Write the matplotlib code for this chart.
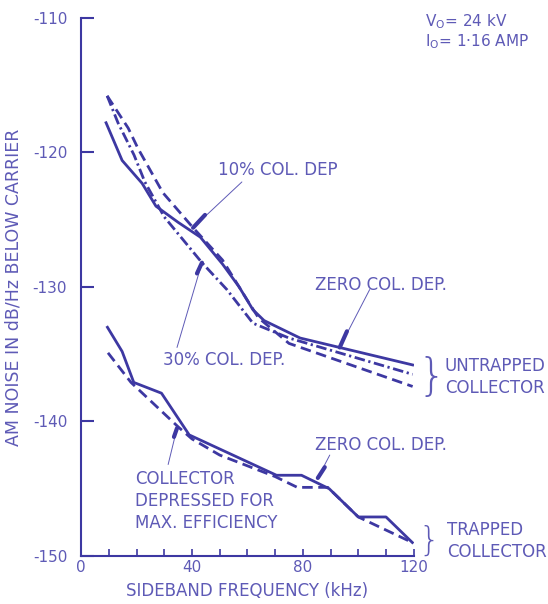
import matplotlib.pyplot as plt

# sideband frequency (kHz) / AM noise (dB/Hz below carrier)
# untrapped collector
zero_f = [9, 14.8, 22, 27, 35, 43, 51, 57, 62, 66, 79, 119.6]
zero_n = [-117.8, -120.6, -122.3, -124.0, -125.2, -126.3, -128.3, -130.0, -131.7,
          -132.5, -133.8, -135.8]
dep10_f = [9.4, 17, 20.5, 29.5, 40.4, 51, 60, 64, 75, 119.6]
dep10_n = [-115.8, -118.2, -119.7, -123.0, -125.6, -128.0, -131.0, -132.3, -134.2, -137.4]
dep30_f = [9.4, 13.3, 19.1, 23, 30, 43.6, 52.6, 62, 75, 119.6]
dep30_n = [-115.8, -117.8, -120.2, -122.2, -124.8, -128.2, -130.2, -132.7, -133.8, -136.5]

# trapped collector
tz_f = [9.5, 14.8, 19, 29, 39, 70.5, 79.5, 89.5, 100, 110, 119.5]
tz_n = [-133.0, -134.8, -137.1, -137.9, -141.0, -144.0, -144.0, -145.0, -147.1, -147.1, -149.0]
tmax_f = [9.7, 18, 35, 40, 50, 70, 78, 89, 100, 119.5]
tmax_n = [-134.9, -137.1, -140.4, -141.3, -142.5, -144.1, -144.9, -144.9, -147.1, -149.0]

xticks = [0, 40, 80, 120]
yticks = [-150, -140, -130, -120, -110]

LINE = '#3d38a2'
TEXT = '#5e5ab6'

plt.rcParams['font.family'] = 'DejaVu Sans'

fig = plt.figure(figsize=(5.48, 6.04), dpi=100)
ax = fig.add_axes([0.148, 0.0795, 0.607, 0.891])

DASH = (0, (3.8, 2.0))
DASHDOT = (0, (3.8, 1.3, 0.8, 1.3))
ax.plot(zero_f, zero_n, color=LINE, lw=2.0, solid_joinstyle='round')
ax.plot(dep10_f, dep10_n, color=LINE, lw=2.0, linestyle=DASH)
ax.plot(dep30_f, dep30_n, color=LINE, lw=2.0, linestyle=DASHDOT)
ax.plot(tz_f, tz_n, color=LINE, lw=2.0, solid_joinstyle='round')
ax.plot(tmax_f, tmax_n, color=LINE, lw=2.0, linestyle=DASH)

ax.set_xlim(0, 120)
ax.set_ylim(-150, -110)
for s in ['top', 'right']:
    ax.spines[s].set_visible(False)
for s in ['left', 'bottom']:
    ax.spines[s].set_color(LINE)
    ax.spines[s].set_linewidth(1.5)

ax.set_xticks(xticks)
ax.set_xticks(range(0, 121, 10), minor=True)
ax.set_yticks(yticks)
ax.set_yticklabels(['-150', '-140', '-130', '-120', '-110'])
ax.tick_params(axis='y', direction='in', length=9, width=1.5, color=LINE,
               labelcolor=TEXT, labelsize=11, pad=10)
ax.tick_params(axis='x', which='both', direction='in', length=5, width=1.2,
               color=LINE, labelcolor=TEXT, labelsize=11, pad=3)

ax.set_xlabel('SIDEBAND FREQUENCY (kHz)', color=TEXT, fontsize=12, labelpad=5)
ax.set_ylabel('AM NOISE IN dB/Hz BELOW CARRIER', color=TEXT, fontsize=12.5, labelpad=7)


def leader(start, mid, tip):
    # thin leader line ending in a short heavy stroke
    ax.annotate('', xy=tip, xytext=start,
                arrowprops=dict(arrowstyle='-', color=TEXT, lw=0.7,
                                shrinkA=0, shrinkB=0))
    ax.annotate('', xy=tip, xytext=mid,
                arrowprops=dict(arrowstyle='-', color=LINE, lw=3.0,
                                shrinkA=0, shrinkB=0))


tkw = dict(color=TEXT, fontsize=12, va='center')
ax.text(49.4, -121.3, '10% COL. DEP', **tkw)
leader((58.0, -122.2), (44.7, -124.65), (40.4, -125.6))

ax.text(84.3, -129.85, 'ZERO COL. DEP.', **tkw)
leader((104.1, -130.2), (95.9, -133.3), (93.3, -134.5))

ax.text(29.5, -135.4, '30% COL. DEP.', **tkw)
leader((34.6, -134.5), (41.8, -129.0), (43.6, -128.2))

ax.text(84.3, -141.75, 'ZERO COL. DEP.', **tkw)
leader((89.7, -142.5), (87.9, -143.4), (85.4, -144.2))

ax.text(19.5, -143.6, 'COLLECTOR\nDEPRESSED FOR\nMAX. EFFICIENCY', linespacing=1.3,
        color=TEXT, fontsize=12, va='top')
leader((31.4, -143.2), (33.5, -141.15), (34.6, -140.5))

ax.text(126.5, -136.7, '}', color=TEXT, fontsize=32, va='center', ha='center',
        fontweight='light')
ax.text(131.2, -136.7, 'UNTRAPPED\nCOLLECTOR', color=TEXT, fontsize=12,
        va='center', linespacing=1.3)
ax.text(125.5, -148.9, '}', color=TEXT, fontsize=24, va='center', ha='center',
        fontweight='light')
ax.text(131.9, -148.9, 'TRAPPED\nCOLLECTOR', color=TEXT, fontsize=12,
        va='center', linespacing=1.3)

ax.text(124, -110.3, r'V$_\mathregular{O}$= 24 kV', color=TEXT, fontsize=11, va='center')
ax.text(124, -111.8, r'I$_\mathregular{O}$= 1·16 AMP', color=TEXT, fontsize=11, va='center')

for t in ax.texts:
    t.set_clip_on(False)

fig.savefig('out.png', dpi=100)
